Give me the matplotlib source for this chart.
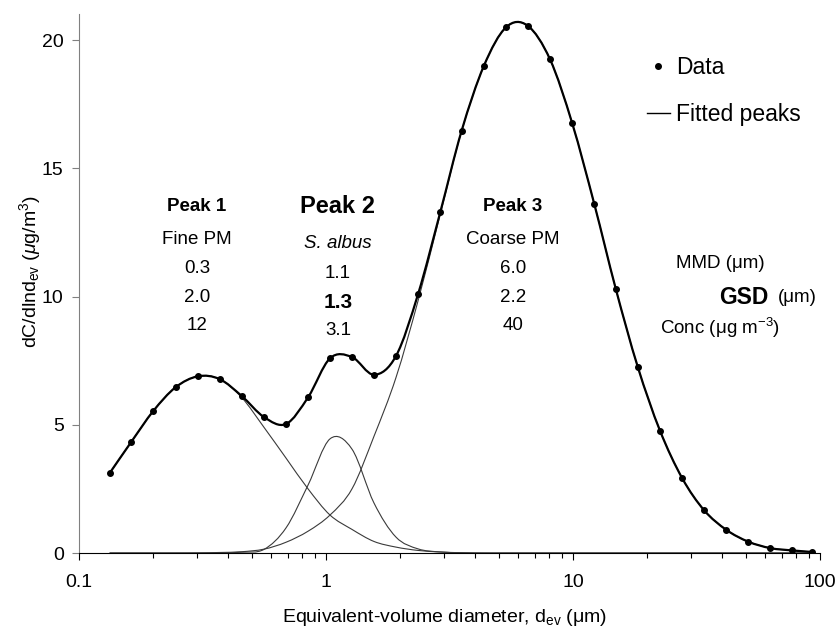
import numpy as np
import matplotlib
matplotlib.use("Agg")
import matplotlib.pyplot as plt
from matplotlib.path import Path
from matplotlib.patches import PathPatch
from matplotlib.lines import Line2D

plt.rcParams['font.family'] = ['Liberation Sans', 'DejaVu Sans']
plt.rcParams['mathtext.fontset'] = 'custom'
plt.rcParams['mathtext.rm'] = 'Liberation Sans'
plt.rcParams['mathtext.it'] = 'Liberation Sans:italic'
plt.rcParams['mathtext.bf'] = 'Liberation Sans:bold'

diam = [0.133, 0.163, 0.200, 0.246, 0.303, 0.371, 0.456, 0.561, 0.689, 0.846,
        1.038, 1.274, 1.564, 1.92, 2.36, 2.90, 3.54, 4.36, 5.36, 6.55,
        8.07, 9.93, 12.2, 14.9, 18.3, 22.5, 27.7, 34.0, 41.8, 51.3,
        63.0, 77.3, 93.0]
conc = [3.11, 4.34, 5.54, 6.46, 6.89, 6.78, 6.12, 5.30, 5.03, 6.07,
        7.59, 7.64, 6.95, 7.68, 10.1, 13.28, 16.46, 19.0, 20.5, 20.56,
        19.25, 16.75, 13.6, 10.3, 7.25, 4.77, 2.91, 1.66, 0.90, 0.44,
        0.19, 0.10, 0.04]

# fitted lognormal components, read at the same diameters
peak1 = [3.11, 4.34, 5.54, 6.46, 6.89, 6.78, 6.06, 4.9, 3.7, 2.5,
         1.48, 0.92, 0.45, 0.23, 0.10, 0.04, 0.01, 0, 0, 0,
         0, 0, 0, 0, 0, 0, 0, 0, 0, 0,
         0, 0, 0]
peak2 = [0, 0, 0, 0, 0, 0.005, 0.03, 0.14, 0.98, 2.65,
         4.45, 4.05, 1.95, 0.62, 0.16, 0.04, 0.01, 0, 0, 0,
         0, 0, 0, 0, 0, 0, 0, 0, 0, 0,
         0, 0, 0]
peak3 = [0, 0, 0, 0, 0.005, 0.02, 0.05, 0.15, 0.42, 0.85,
         1.48, 2.5, 4.55, 6.84, 9.84, 13.2, 16.45, 19.0, 20.5, 20.56,
         19.25, 16.75, 13.6, 10.3, 7.25, 4.77, 2.91, 1.66, 0.90, 0.44,
         0.19, 0.10, 0.04]

col_x = [197, 338, 513]
col_head = ["Peak 1", "Peak 2", "Peak 3"]
col_name = ["Fine PM", "S. albus", "Coarse PM"]
col_mmd = ["0.3", "1.1", "6.0"]
col_gsd = ["2.0", "1.3", "2.2"]
col_conc = ["12", "3.1", "40"]


def smooth_path(xs, ys):
    # Excel-style smoothed line: cubic Bezier through the points, in log-x space
    u = np.log10(xs)
    y = np.asarray(ys, dtype=float)
    n = len(u)
    verts = [(xs[0], ys[0])]
    codes = [Path.MOVETO]
    for i in range(n - 1):
        i0 = max(i - 1, 0)
        i3 = min(i + 2, n - 1)
        c1u = u[i] + (u[i + 1] - u[i0]) / 6
        c1y = y[i] + (y[i + 1] - y[i0]) / 6
        c2u = u[i + 1] - (u[i3] - u[i]) / 6
        c2y = y[i + 1] - (y[i3] - y[i]) / 6
        verts += [(10 ** c1u, c1y), (10 ** c2u, c2y), (xs[i + 1], ys[i + 1])]
        codes += [Path.CURVE4] * 3
    return Path(verts, codes)


W, H = 840, 633
fig = plt.figure(figsize=(W / 100, H / 100), dpi=100)
ax = fig.add_axes([79 / W, 1 - 553 / H, (820 - 79) / W, 538.6 / H])
ax.set_xscale('log')
ax.set_xlim(0.1, 100)
ax.set_ylim(0, 21)

for comp in (peak1, peak2, peak3):
    ax.add_patch(PathPatch(smooth_path(diam, comp), fill=False,
                           edgecolor='#3a3a3a', lw=0.8, zorder=2))
ax.add_patch(PathPatch(smooth_path(diam, conc), fill=False,
                       edgecolor='black', lw=1.6, zorder=3))
ax.plot(diam, conc, 'o', color='black', markersize=4, zorder=4)

ax.spines['top'].set_visible(False)
ax.spines['right'].set_visible(False)
ax.spines['left'].set_color('#808080')
ax.spines['bottom'].set_color('black')
ax.set_yticks([0, 5, 10, 15, 20])
ax.set_xticks([0.1, 1, 10, 100])
ax.set_xticklabels(["0.1", "1", "10", "100"])
ax.tick_params(axis='y', direction='out', length=5, width=0.8, color='#808080',
               labelsize=14, pad=6)
ax.tick_params(axis='x', which='major', direction='out', length=5, width=0.8,
               labelsize=14, pad=10)
ax.tick_params(axis='x', which='minor', direction='out', length=3.5, width=0.8)

fig.text(30 / W, 1 - 272 / H, r'dC/dlnd$_{\mathrm{ev}}$ ($\mu$g/m$^3$)',
         rotation=90, ha='center', va='center', fontsize=14)
fig.text(445 / W, 1 - 617 / H, r'Equivalent-volume diameter, d$_{\mathrm{ev}}$ (μm)',
         ha='center', va='center', fontsize=14)

# peak annotation columns
rows_y = [207, 240, 268, 297, 325]
for i, cx in enumerate(col_x):
    dy = 5 if i == 1 else 0
    fx = cx / W
    fig.text(fx, 1 - rows_y[0] / H, col_head[i], ha='center', va='center',
             fontsize=17 if i == 1 else 13.5, fontweight='bold')
    fig.text(fx, 1 - (rows_y[1] + (3 if i == 1 else 0)) / H, col_name[i],
             ha='center', va='center', fontsize=13.5,
             style='italic' if i == 1 else 'normal')
    fig.text(fx, 1 - (rows_y[2] + dy) / H, col_mmd[i], ha='center', va='center',
             fontsize=13.5)
    fig.text(fx, 1 - (rows_y[3] + dy) / H, col_gsd[i], ha='center', va='center',
             fontsize=15 if i == 1 else 13.5,
             fontweight='bold' if i == 1 else 'normal')
    fig.text(fx, 1 - (rows_y[4] + dy) / H, col_conc[i], ha='center', va='center',
             fontsize=13.5)

fig.text(720 / W, 1 - 263 / H, 'MMD (μm)', ha='center', va='center', fontsize=13.5)
fig.text(769 / W, 1 - 297 / H, 'GSD', ha='right', va='center', fontsize=16.5,
         fontweight='bold')
fig.text(778 / W, 1 - 297 / H, '(μm)', ha='left', va='center', fontsize=13.5)
fig.text(720 / W, 1 - 328 / H, r'Conc (μg m$^{-3}$)', ha='center', va='center',
         fontsize=13.5)

handles = [Line2D([], [], marker='o', ls='none', color='black', markersize=4),
           Line2D([], [], color='black', lw=1)]
ax.legend(handles, ['Data', 'Fitted peaks'], frameon=False, loc='upper left',
          bbox_to_anchor=(647 / W, 1 - 56 / H), bbox_transform=fig.transFigure,
          fontsize=16.5, handlelength=1.0, handletextpad=0.27, labelspacing=1.05,
          borderpad=0, borderaxespad=0)

fig.savefig('out.png', dpi=100)
